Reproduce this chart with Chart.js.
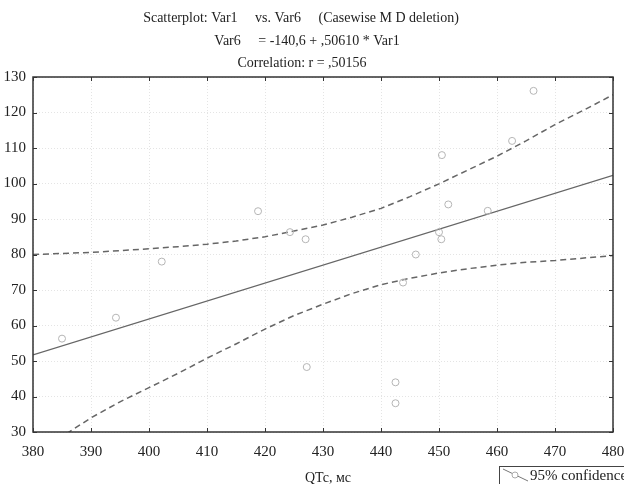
<!DOCTYPE html>
<html>
<head>
  <meta charset="utf-8">
  <title>Scatterplot: Var1 vs. Var6</title>
  <script src="https://cdn.jsdelivr.net/npm/chart.js@4.4.0/dist/chart.umd.min.js"></script>
  <style>
    html, body {
      margin: 0;
      padding: 0;
      background: #ffffff;
    }
    #wrap {
      width: 624px;
      height: 484px;
    }
  </style>
</head>
<body>
  <div id="wrap">
    <canvas id="plot" width="624" height="484"></canvas>
  </div>
  <script>
    // observed points (QTc vs Var6)
    const qtc  = [385, 394.3, 402.2, 418.8, 424.3, 427, 427.2, 442.5, 442.5, 443.8, 446, 450, 450.4, 450.5, 451.6, 458.4, 462.6, 466.3];
    const var6 = [56.3, 62.2, 78, 92.2, 86.3, 84.3, 48.3, 44, 38.1, 72.1, 80, 86.3, 84.3, 108, 94.1, 92.3, 112, 126.1];

    // regression line Var6 = -140,6 + ,50610 * Var1
    const fitX = [380, 480];
    const fitY = [51.7, 102.3];

    // 95% confidence band
    const bandX = [380, 390, 395, 400, 405, 410, 415, 420, 425, 430, 435, 440, 445, 450, 455, 460, 465, 470, 475, 480];
    const upper = [80, 80.6, 81.1, 81.6, 82.2, 82.9, 83.8, 85, 86.6, 88.3, 90.5, 93, 96.3, 99.9, 103.8, 107.7, 112, 116.6, 120.7, 125];
    const lower = [23.4, 34, 38.5, 42.5, 46.5, 50.8, 54.8, 59, 62.8, 66, 69, 71.5, 73.3, 74.8, 76, 77, 77.8, 78.3, 79, 79.7];

    const xTicks = [380, 390, 400, 410, 420, 430, 440, 450, 460, 470, 480];
    const yTicks = [30, 40, 50, 60, 70, 80, 90, 100, 110, 120, 130];

    const titleLines = [
      "Scatterplot: Var1     vs. Var6     (Casewise M D deletion)",
      "Var6     = -140,6 + ,50610 * Var1",
      "Correlation: r = ,50156"
    ];
    const xTitle = "QTc, мс";
    const legendText = "95% confidence";

    function pairs(xs, ys){
      return xs.map((x, i) => ({ x: x, y: ys[i] }));
    }

    const serif = "'Liberation Serif', 'DejaVu Serif', serif";

    // frame, inner ticks, titles and legend box
    const decor = {
      id: "decor",
      afterDraw(chart){
        const ctx = chart.ctx;
        const a = chart.chartArea;
        const xs = chart.scales.x;
        const ys = chart.scales.y;
        ctx.save();
        ctx.strokeStyle = "#333";
        ctx.lineWidth = 1.5;
        ctx.strokeRect(a.left, a.top, a.right - a.left, a.bottom - a.top);
        ctx.lineWidth = 1;
        ctx.beginPath();
        xTicks.forEach(v => {
          const px = Math.round(xs.getPixelForValue(v)) + 0.5;
          ctx.moveTo(px, a.top); ctx.lineTo(px, a.top + 4);
          ctx.moveTo(px, a.bottom); ctx.lineTo(px, a.bottom - 4);
        });
        yTicks.forEach(v => {
          const py = Math.round(ys.getPixelForValue(v)) + 0.5;
          ctx.moveTo(a.left, py); ctx.lineTo(a.left + 4, py);
          ctx.moveTo(a.right, py); ctx.lineTo(a.right - 4, py);
        });
        ctx.stroke();

        ctx.fillStyle = "#222";
        ctx.textAlign = "center";
        ctx.textBaseline = "middle";
        ctx.font = "14px " + serif;
        ctx.fillText(titleLines[0], 301, 18);
        ctx.fillText(titleLines[1], 307, 41);
        ctx.fillText(titleLines[2], 302, 63);

        ctx.fillText(xTitle, 328, 478);

        // legend
        ctx.strokeStyle = "#444";
        ctx.lineWidth = 1;
        ctx.strokeRect(499.5, 466.5, 200, 40);
        ctx.strokeStyle = "#777";
        ctx.beginPath();
        ctx.moveTo(503, 469); ctx.lineTo(528, 481);
        ctx.stroke();
        ctx.fillStyle = "#fff";
        ctx.strokeStyle = "#aaa";
        ctx.beginPath();
        ctx.arc(515, 475, 3, 0, Math.PI * 2);
        ctx.fill();
        ctx.stroke();
        ctx.fillStyle = "#222";
        ctx.textAlign = "left";
        ctx.font = "15px " + serif;
        ctx.fillText(legendText, 530, 476);
        ctx.restore();
      }
    };

    const ctx = document.getElementById("plot").getContext("2d");
    const chart = new Chart(ctx, {
      type: "scatter",
      data: {
        datasets: [
          {
            label: "Var6",
            data: pairs(qtc, var6),
            pointRadius: 3.5,
            pointBackgroundColor: "rgba(255,255,255,0)",
            pointBorderColor: "#b5b5b5",
            pointBorderWidth: 1,
            showLine: false
          },
          {
            label: "fit",
            data: pairs(fitX, fitY),
            showLine: true,
            borderColor: "#666",
            borderWidth: 1.3,
            pointRadius: 0
          },
          {
            label: "upper",
            data: pairs(bandX, upper),
            showLine: true,
            borderColor: "#666",
            borderWidth: 1.5,
            borderDash: [6, 4],
            pointRadius: 0
          },
          {
            label: "lower",
            data: pairs(bandX, lower),
            showLine: true,
            borderColor: "#666",
            borderWidth: 1.5,
            borderDash: [6, 4],
            pointRadius: 0
          }
        ]
      },
      options: {
        responsive: false,
        animation: false,
        layout: {
          padding: { top: 77, right: 0, bottom: 0, left: 0 }
        },
        plugins: {
          legend: { display: false },
          tooltip: { enabled: false }
        },
        scales: {
          x: {
            type: "linear",
            min: 380,
            max: 480,
            afterBuildTicks: s => { s.ticks = xTicks.map(v => ({ value: v })); },
            afterFit: s => {
              s.height = 52;
              s.paddingLeft = 0;
              s.paddingRight = 11;
            },
            ticks: {
              color: "#222",
              padding: 11,
              font: { family: serif, size: 15 }
            },
            grid: {
              color: "#e4e4e4",
              drawTicks: false
            },
            border: { display: false, dash: [1, 2] }
          },
          y: {
            type: "linear",
            min: 30,
            max: 130,
            afterBuildTicks: s => { s.ticks = yTicks.map(v => ({ value: v })); },
            afterFit: s => { s.width = 33; },
            ticks: {
              color: "#222",
              padding: 7,
              font: { family: serif, size: 15 }
            },
            grid: {
              color: "#e4e4e4",
              drawTicks: false
            },
            border: { display: false, dash: [1, 2] }
          }
        }
      },
      plugins: [decor]
    });
  </script>
</body>
</html>
